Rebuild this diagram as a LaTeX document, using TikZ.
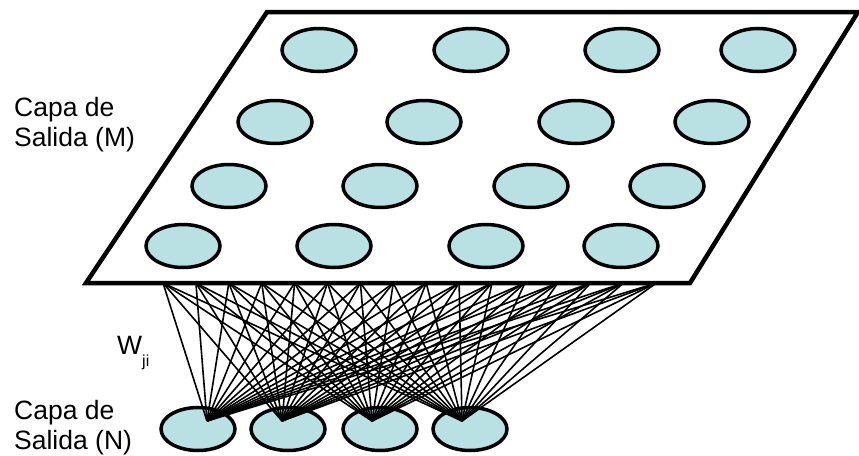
\documentclass[tikz,border=0pt]{standalone}
\usepackage{fontspec}
\setmainfont{Liberation Sans}
\usetikzlibrary{shapes.geometric}
\definecolor{celda}{RGB}{185,224,227}
\tikzset{
  neurona/.style={ellipse, draw, line width=3.5pt, fill=celda,
    minimum width=74pt, minimum height=43pt, inner sep=0pt},
  etiqueta/.style={font=\fontsize{26.5}{30}\selectfont, align=left, inner sep=0pt},
  peso/.style={line width=1.6pt},
}
\begin{document}
\begin{tikzpicture}[x=1pt,y=-1pt]
    \useasboundingbox (0,0) rectangle (859,455);
    % Neuronas de la capa inferior
    \foreach \x/\n in {198/1,288/2,380/3,470/4}
    \node[neurona] (n\n) at (\x,429) {};
    
    % Puntos donde llegan las conexiones
    \foreach \x/\n in {207/1,282/2,372/3,462/4}
    \coordinate (c\n) at (\x,421);
    
    % Puntos sobre el borde del plano
    \foreach \i in {0,...,15}
    \coordinate (e\i) at ({163+32.9*\i},283);
    
    % Pesos W_ji
    \foreach \n in {1,...,4}
    \foreach \i in {0,...,15}
    \draw[peso] (c\n) -- (e\i);
    
    % Plano de la capa de salida
    \draw[line width=4.5pt, fill=white] (86,283) -- (690,283) -- (858,12) -- (267,12) -- cycle;
    
    % Neuronas del plano
    \foreach \x/\y [count=\k] in {319/50,471/50,622/50,758/50,
                                  275/122,424/122,576/122,712/122,
                                  229/186,380/186,531/186,667/186,
                                  183/246,334/246,486/246,621/246}
    \node[neurona] (m\k) at (\x,\y) {};
    
    % Etiquetas
    \node[etiqueta, anchor=west] (capaM) at (14,125) {Capa de\\Salida (M)};
    \node[etiqueta, anchor=west] (capaN) at (14,428) {Capa de\\Salida (N)};
    \node[etiqueta, anchor=base west] (w) at (117,354)
      {W\raisebox{-12pt}{\fontsize{16}{16}\selectfont ji}};
\end{tikzpicture}
\end{document}
